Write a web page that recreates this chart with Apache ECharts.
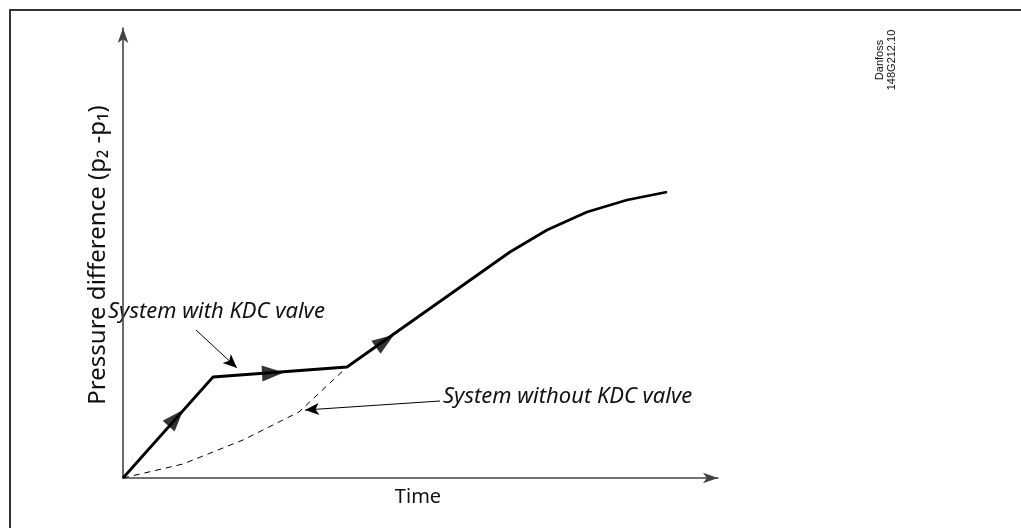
<!DOCTYPE html>
<html><head><meta charset="utf-8">
<script src="https://cdn.jsdelivr.net/npm/echarts@6/dist/echarts.min.js"></script>
<style>html,body{margin:0;padding:0;background:#fff}#c{width:1021px;height:528px}</style>
</head><body><div id="c"></div>
<script>
// Values (arbitrary time / pressure units)
const withKdc = [[0,0],[90,101],[224,111],[387,226],[424,248],[464,266],[504,278],[544,286]];
const withoutKdc = [[0,0],[60,14],[120,38],[176,66],[224,111]];
const flowArrows = [[53,60,-42],[150,105,-87],[262,137,-55]];
const noteArrowWith = [[73,148],[114,110]];
const noteArrowWithout = [[317,77],[182,68]];
const xName = 'Time';
const yName = 'Pressure difference (p\u2082 -p\u2081)';
const labelWith = 'System with KDC valve';
const labelWithout = 'System without KDC valve';
const docRef = 'Danfoss\n148G212.10';

const chart = echarts.init(document.getElementById('c'));
const axisStyle = {show:true, symbol:['none','arrow'], symbolSize:[8,15], lineStyle:{color:'#444', width:1.6}};
chart.setOption({
  animation:false,
  grid:{left:123, top:28, width:595, height:450},
  xAxis:{type:'value', min:0, max:595, axisLine:axisStyle, axisTick:{show:false}, axisLabel:{show:false}, splitLine:{show:false}},
  yAxis:{type:'value', min:0, max:450, axisLine:axisStyle, axisTick:{show:false}, axisLabel:{show:false}, splitLine:{show:false}},
  series:[
    {type:'line', data:withoutKdc, symbol:'none', lineStyle:{color:'#000', width:1, type:[6,5]}, z:2},
    {type:'line', data:withKdc, symbol:'none', lineStyle:{color:'#000', width:2.8}, z:3,
      markLine:{silent:true, symbol:['none','arrow'], symbolSize:[9,14], label:{show:false},
        lineStyle:{color:'#000', width:1, type:'solid'},
        data:[[{coord:noteArrowWith[0]},{coord:noteArrowWith[1]}],[{coord:noteArrowWithout[0]},{coord:noteArrowWithout[1]}]]}},
    {type:'scatter', data:flowArrows.map(a=>({value:[a[0],a[1]], symbolRotate:a[2]})), symbol:'triangle', symbolSize:[16,22], itemStyle:{color:'#000'}, z:4}
  ],
  graphic:[
    {type:'rect', shape:{x:10, y:10, width:1100, height:600}, style:{fill:'none', stroke:'#333', lineWidth:2}, silent:true},
    {type:'text', x:418, y:497, style:{text:xName, font:'20px "Noto Sans"', fill:'#111', align:'center', verticalAlign:'middle'}},
    {type:'text', x:98, y:255, rotation:Math.PI/2, style:{text:yName, font:'24px "Noto Sans"', fill:'#111', align:'center', verticalAlign:'middle'}},
    {type:'text', x:108, y:312, style:{text:labelWith, font:'italic 22px "Noto Sans"', fill:'#111', align:'left', verticalAlign:'middle'}},
    {type:'text', x:443, y:397, style:{text:labelWithout, font:'italic 22px "Noto Sans"', fill:'#111', align:'left', verticalAlign:'middle'}},
    {type:'text', x:886, y:60, rotation:Math.PI/2, style:{text:docRef, font:'11px "Liberation Sans"', fill:'#111', align:'center', verticalAlign:'middle', lineHeight:12}}
  ]
});
</script></body></html>
